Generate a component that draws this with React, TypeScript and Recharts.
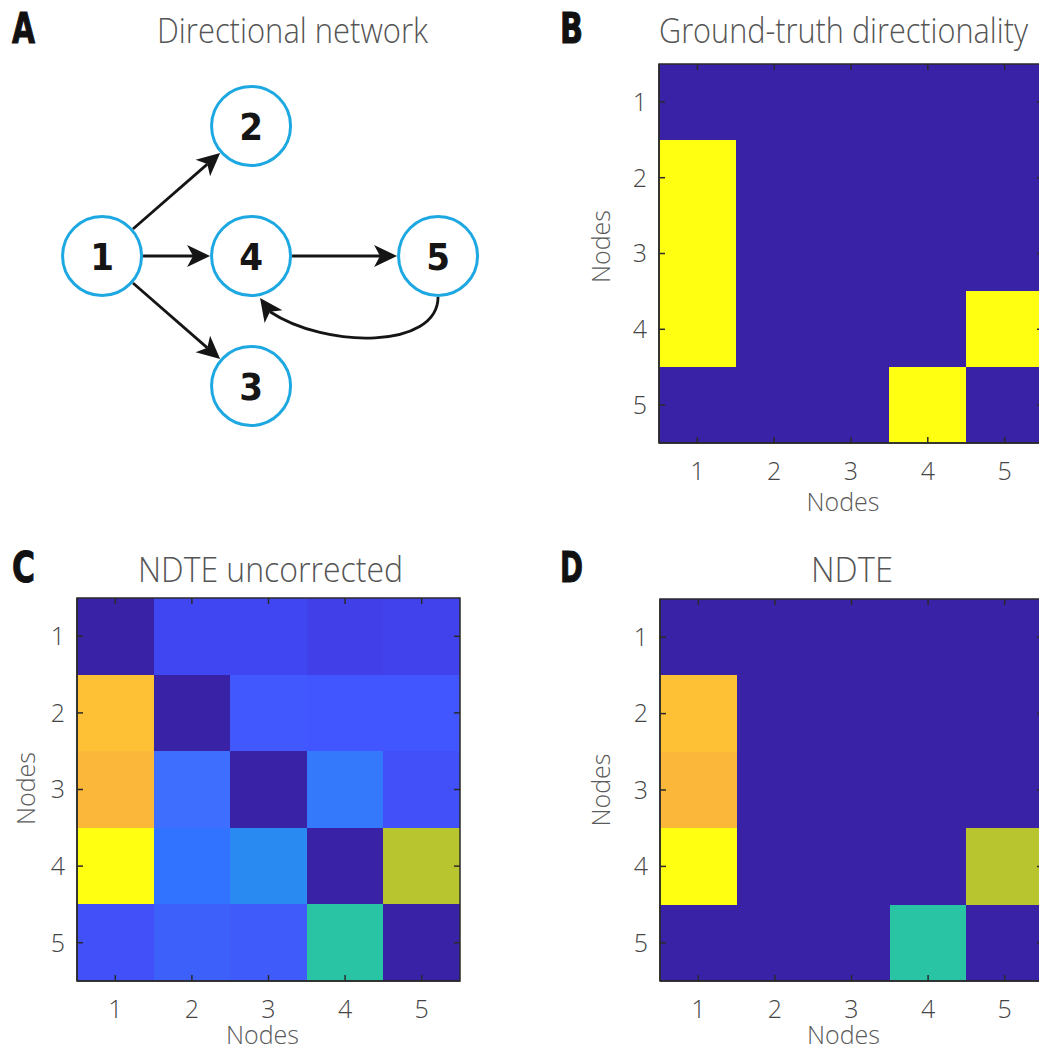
import React from 'react';
import { ScatterChart, Scatter, XAxis, YAxis, ReferenceArea, ReferenceLine, Label } from 'recharts';

// ---------------- data ----------------
const AXIS_TICKS = [1, 2, 3, 4, 5];
const AXIS_LABEL = 'Nodes';

// rows = target node (y, top to bottom), columns = source node (x)
const groundTruthRows: number[][] = [
  [0, 0, 0, 0, 0],
  [1, 0, 0, 0, 0],
  [1, 0, 0, 0, 0],
  [1, 0, 0, 0, 1],
  [0, 0, 0, 1, 0],
];

const ndteUncorrectedRows: number[][] = [
  [0.0, 0.14, 0.14, 0.11, 0.12],
  [0.89, 0.0, 0.2, 0.19, 0.19],
  [0.87, 0.27, 0.0, 0.32, 0.16],
  [1.0, 0.3, 0.4, 0.0, 0.78],
  [0.16, 0.24, 0.22, 0.6, 0.0],
];

const ndteRows: number[][] = [
  [0, 0, 0, 0, 0],
  [0.89, 0, 0, 0, 0],
  [0.87, 0, 0, 0, 0],
  [1.0, 0, 0, 0, 0.78],
  [0, 0, 0, 0.6, 0],
];

// network layout (abstract layout units)
const netNodeIds = [1, 2, 3, 4, 5];
const netNodeX = [0, 1, 1, 1, 2.255];
const netNodeY = [0, 1, -1, 0, 0];
const netEdgeFrom = [1, 1, 1, 4, 5];
const netEdgeTo = [2, 3, 4, 5, 4];
const netEdgeCurved = [false, false, false, false, true];

const panelLetters = ['A', 'B', 'C', 'D'];
const panelTitles = ['Directional network', 'Ground-truth directionality', 'NDTE uncorrected', 'NDTE'];

// parula-like colour scale stops
const scaleStops: [number, string][] = [
  [0.0, '#3A22A6'],
  [0.11, '#4140E8'],
  [0.14, '#4047F2'],
  [0.16, '#4150F8'],
  [0.19, '#4256FF'],
  [0.22, '#3F5CFB'],
  [0.24, '#3D60FB'],
  [0.27, '#3D6EFD'],
  [0.3, '#3173FF'],
  [0.32, '#3478FB'],
  [0.4, '#298BF2'],
  [0.6, '#28C4A4'],
  [0.78, '#B9C52F'],
  [0.87, '#FBB73A'],
  [0.89, '#FEC034'],
  [1.0, '#FFFF12'],
];

// ---------------- helpers ----------------
function hexToRgb(h: string) {
  const n = parseInt(h.slice(1), 16);
  return [(n >> 16) & 255, (n >> 8) & 255, n & 255];
}
function colorFor(v: number) {
  const t = Math.max(0, Math.min(1, v));
  for (let i = 0; i < scaleStops.length - 1; i++) {
    const [t0, c0] = scaleStops[i];
    const [t1, c1] = scaleStops[i + 1];
    if (t >= t0 && t <= t1) {
      const f = t1 === t0 ? 0 : (t - t0) / (t1 - t0);
      const a = hexToRgb(c0);
      const b = hexToRgb(c1);
      const r = a.map((x, k) => Math.round(x + (b[k] - x) * f));
      return `rgb(${r[0]},${r[1]},${r[2]})`;
    }
  }
  return scaleStops[scaleStops.length - 1][1];
}

const LIGHT_FONT = "'Open Sans', Inter, Lato, 'Liberation Sans', sans-serif";
const BOLD_COND = "'DejaVu Sans Condensed', 'Liberation Sans Narrow', 'DejaVu Sans', sans-serif";
const AXIS_COLOR = '#2a2a2a';
const TEXT_COLOR = '#454545';
const LINE_W = 1.5;
const TICK_LEN = 6;
const LINE_PROPS = { stroke: AXIS_COLOR, strokeWidth: LINE_W };

// inward tick marks drawn from a ReferenceLine spanning the plot
function XTickMarks(p: any) {
  const top = Math.min(p.y1, p.y2);
  const bot = Math.max(p.y1, p.y2);
  return (
    <g>
      <line x1={p.x1} y1={top} x2={p.x1} y2={top + TICK_LEN} stroke={AXIS_COLOR} strokeWidth={LINE_W} />
      <line x1={p.x1} y1={bot - TICK_LEN} x2={p.x1} y2={bot} stroke={AXIS_COLOR} strokeWidth={LINE_W} />
    </g>
  );
}
function YTickMarks(p: any) {
  const left = Math.min(p.x1, p.x2);
  const right = Math.max(p.x1, p.x2);
  return (
    <g>
      <line x1={left} y1={p.y1} x2={left + TICK_LEN} y2={p.y1} stroke={AXIS_COLOR} strokeWidth={LINE_W} />
      <line x1={right - TICK_LEN} y1={p.y1} x2={right} y2={p.y1} stroke={AXIS_COLOR} strokeWidth={LINE_W} />
    </g>
  );
}

// ---------------- heatmap ----------------
type HeatProps = {
  rows: number[][];
  plotLeft: number;
  plotTop: number;
  plotW: number;
  plotH: number;
  yLabelGap: number;
  yLabelShift: number;
  xLabelBaseline: number;
  xLabelShift: number;
};

const PAD_L = 80;
const PAD_T = 10;
const PAD_R = 10;
const PAD_B = 80;

function Heatmap({ rows, plotLeft, plotTop, plotW, plotH, yLabelGap, yLabelShift, xLabelBaseline, xLabelShift }: HeatProps) {
  const cells: { x: number; y: number; v: number }[] = [];
  rows.forEach((row, ri) =>
    row.forEach((v, ci) => cells.push({ x: AXIS_TICKS[ci], y: AXIS_TICKS[ri], v }))
  );
  const tickStyle = { fontSize: 25, fill: TEXT_COLOR, fontFamily: LIGHT_FONT, fontWeight: 300 };
  const W = PAD_L + plotW + PAD_R;
  const H = PAD_T + plotH + PAD_B;
  return (
    <>
      {/* cell layer */}
      <div style={{ position: 'absolute', left: plotLeft - PAD_L, top: plotTop - PAD_T }}>
        <ScatterChart width={W} height={H} margin={{ top: PAD_T, right: PAD_R, left: PAD_L, bottom: PAD_B }}>
          <XAxis xAxisId="b" type="number" dataKey="x" hide domain={[0.5, 5.5]} allowDataOverflow />
          <YAxis yAxisId="l" type="number" dataKey="y" hide reversed domain={[0.5, 5.5]} allowDataOverflow />
          {cells.map((c, i) => {
            const col = colorFor(c.v);
            return (
              <ReferenceArea
                key={`cell-${i}`}
                xAxisId="b"
                yAxisId="l"
                x1={c.x - 0.5}
                x2={c.x + 0.5}
                y1={c.y - 0.5}
                y2={c.y + 0.5}
                fill={col}
                fillOpacity={1}
                ifOverflow="visible"
                shape={(p: any) => (
                  <rect
                    x={p.x}
                    y={p.y}
                    width={p.width}
                    height={p.height}
                    fill={col}
                    shapeRendering="crispEdges"
                  />
                )}
              />
            );
          })}
          <Scatter data={cells} xAxisId="b" yAxisId="l" isAnimationActive={false} shape={() => <g />} />
        </ScatterChart>
      </div>
      {/* axes layer */}
      <div style={{ position: 'absolute', left: plotLeft - PAD_L, top: plotTop - PAD_T }}>
        <ScatterChart width={W} height={H} margin={{ top: PAD_T, right: PAD_R, left: 0, bottom: 0 }}>
          <Scatter data={cells} xAxisId="b" yAxisId="l" isAnimationActive={false} shape={() => <g />} />
          <XAxis
            xAxisId="b"
            type="number"
            dataKey="x"
            domain={[0.5, 5.5]}
            allowDataOverflow
            ticks={AXIS_TICKS}
            interval={0}
            orientation="bottom"
            height={PAD_B}
            tickLine={false}
            tickMargin={13}
            stroke={AXIS_COLOR}
            axisLine={LINE_PROPS}
            tick={tickStyle}
          >
            <Label
              content={(p: any) => {
                const vb = p.viewBox || {};
                return (
                  <text
                    x={vb.x + vb.width / 2 + xLabelShift}
                    y={vb.y + xLabelBaseline}
                    textAnchor="middle"
                    fontSize={25}
                    fontFamily={LIGHT_FONT}
                    fontWeight={300}
                    fill="#5a5a5a"
                  >
                    {AXIS_LABEL}
                  </text>
                );
              }}
            />
          </XAxis>
          <YAxis
            yAxisId="l"
            type="number"
            dataKey="y"
            reversed
            domain={[0.5, 5.5]}
            allowDataOverflow
            ticks={AXIS_TICKS}
            interval={0}
            orientation="left"
            width={PAD_L}
            tickLine={false}
            tickMargin={6}
            stroke={AXIS_COLOR}
            axisLine={LINE_PROPS}
            tick={tickStyle}
          >
            <Label
              content={(p: any) => {
                const vb = p.viewBox || {};
                const x = vb.x + vb.width - yLabelGap;
                const y = vb.y + vb.height / 2 + yLabelShift;
                return (
                  <text
                    x={x}
                    y={y}
                    transform={`rotate(-90, ${x}, ${y})`}
                    textAnchor="middle"
                    dominantBaseline="central"
                    fontSize={25}
                    fontFamily={LIGHT_FONT}
                    fontWeight={300}
                    fill="#5a5a5a"
                  >
                    {AXIS_LABEL}
                  </text>
                );
              }}
            />
          </YAxis>
          {/* axes box */}
          <ReferenceArea
            xAxisId="b"
            yAxisId="l"
            x1={0.5}
            x2={5.5}
            y1={0.5}
            y2={5.5}
            ifOverflow="visible"
            shape={(p: any) => (
              <rect
                x={p.x}
                y={p.y}
                width={p.width}
                height={p.height}
                fill="none"
                stroke={AXIS_COLOR}
                strokeWidth={LINE_W}
              />
            )}
          />
          {AXIS_TICKS.map((t) => (
            <ReferenceLine key={`xt-${t}`} xAxisId="b" yAxisId="l" x={t} ifOverflow="visible" shape={XTickMarks} />
          ))}
          {AXIS_TICKS.map((t) => (
            <ReferenceLine key={`yt-${t}`} xAxisId="b" yAxisId="l" y={t} ifOverflow="visible" shape={YTickMarks} />
          ))}
        </ScatterChart>
      </div>
    </>
  );
}

// ---------------- network ----------------
const R_OUT = 41;
const EDGE_COLOR = '#151515';
const HEAD_LEN = 23;
const HEAD_HALF = 11;
const HEAD_NOTCH = 6;

function arrowHead(tx: number, ty: number, ux: number, uy: number) {
  const nx = -uy;
  const ny = ux;
  const c1x = tx - ux * HEAD_LEN + nx * HEAD_HALF;
  const c1y = ty - uy * HEAD_LEN + ny * HEAD_HALF;
  const c2x = tx - ux * HEAD_LEN - nx * HEAD_HALF;
  const c2y = ty - uy * HEAD_LEN - ny * HEAD_HALF;
  const bx = tx - ux * (HEAD_LEN - HEAD_NOTCH);
  const by = ty - uy * (HEAD_LEN - HEAD_NOTCH);
  return `M${tx},${ty} L${c1x},${c1y} L${bx},${by} L${c2x},${c2y} Z`;
}

function StraightArrow(p: any) {
  const { x1, y1, x2, y2 } = p;
  const dx = x2 - x1;
  const dy = y2 - y1;
  const L = Math.hypot(dx, dy) || 1;
  const ux = dx / L;
  const uy = dy / L;
  const sx = x1 + ux * R_OUT;
  const sy = y1 + uy * R_OUT;
  const tx = x2 - ux * R_OUT;
  const ty = y2 - uy * R_OUT;
  const ex = tx - ux * (HEAD_LEN - HEAD_NOTCH);
  const ey = ty - uy * (HEAD_LEN - HEAD_NOTCH);
  return (
    <g>
      <line x1={sx} y1={sy} x2={ex} y2={ey} stroke={EDGE_COLOR} strokeWidth={2.8} />
      <path d={arrowHead(tx, ty, ux, uy)} fill={EDGE_COLOR} />
    </g>
  );
}

function CurvedArrow(p: any) {
  const { x1, y1, x2, y2 } = p;
  const sx = x1;
  const sy = y1 + R_OUT;
  const tx = x2 + 9;
  const ty = y2 + R_OUT + 1;
  const dxh = -13;
  const dyh = -18;
  const Lh = Math.hypot(dxh, dyh);
  const ux = dxh / Lh;
  const uy = dyh / Lh;
  const ex = tx - ux * (HEAD_LEN - HEAD_NOTCH);
  const ey = ty - uy * (HEAD_LEN - HEAD_NOTCH);
  const d = `M${sx},${sy} C${sx},${sy + 52} ${x2 + 75},${y2 + R_OUT + 52} ${ex},${ey}`;
  return (
    <g>
      <path d={d} fill="none" stroke={EDGE_COLOR} strokeWidth={2.8} />
      <path d={arrowHead(tx, ty, ux, uy)} fill={EDGE_COLOR} />
    </g>
  );
}

function NodeShape(p: any) {
  const { cx, cy, payload } = p;
  return (
    <g>
      <circle cx={cx} cy={cy} r={39.5} fill="#fff" stroke="#1DA8E2" strokeWidth={3} />
      <text
        x={cx}
        y={cy}
        dy="0.36em"
        textAnchor="middle"
        fontSize={38}
        fontWeight={700}
        fontFamily={BOLD_COND}
        fill="#151515"
      >
        {payload.id}
      </text>
    </g>
  );
}

function NetworkPanel() {
  const nodes = netNodeIds.map((id, i) => ({ id, x: netNodeX[i], y: netNodeY[i] }));
  const byId = (id: number) => nodes[netNodeIds.indexOf(id)];
  return (
    <div style={{ position: 'absolute', left: 0, top: 0 }}>
      <ScatterChart width={520} height={480} margin={{ top: 0, right: 0, left: 0, bottom: 0 }}>
        <XAxis type="number" dataKey="x" hide domain={[-0.685, 2.805]} allowDataOverflow />
        <YAxis type="number" dataKey="y" hide domain={[-1.723, 1.969]} allowDataOverflow />
        {netEdgeFrom.map((f, i) => {
          const a = byId(f);
          const b = byId(netEdgeTo[i]);
          return (
            <ReferenceLine
              key={`edge-${i}`}
              segment={[
                { x: a.x, y: a.y },
                { x: b.x, y: b.y },
              ]}
              ifOverflow="visible"
              shape={netEdgeCurved[i] ? CurvedArrow : StraightArrow}
            />
          );
        })}
        <Scatter data={nodes} isAnimationActive={false} shape={NodeShape} />
      </ScatterChart>
    </div>
  );
}

// ---------------- text overlay ----------------
const letterPos = [
  { x: 12, y: 43 },
  { x: 560, y: 43 },
  { x: 12, y: 582 },
  { x: 560, y: 582 },
];
const titlePos = [
  { x: 157, y: 43, w: 271 },
  { x: 659, y: 43, w: 369 },
  { x: 138, y: 582, w: 265 },
  { x: 811, y: 582, w: 82 },
];

function TextOverlay() {
  return (
    <svg width={1039} height={1048} style={{ position: 'absolute', left: 0, top: 0, pointerEvents: 'none' }}>
      {panelLetters.map((t, i) => (
        <text
          key={`l-${i}`}
          x={letterPos[i].x}
          y={letterPos[i].y}
          fontFamily={BOLD_COND}
          fontWeight={700}
          fontSize={42}
          fill="#111"
          stroke="#111"
          strokeWidth={1}
          textLength={23}
          lengthAdjust="spacingAndGlyphs"
        >
          {t}
        </text>
      ))}
      {panelTitles.map((t, i) => (
        <text
          key={`t-${i}`}
          x={titlePos[i].x}
          y={titlePos[i].y}
          fontFamily={LIGHT_FONT}
          fontWeight={300}
          fontSize={34}
          fill="#555"
          textLength={titlePos[i].w}
          lengthAdjust="spacingAndGlyphs"
        >
          {t}
        </text>
      ))}
    </svg>
  );
}

export default function App() {
  return (
    <div
      style={{
        position: 'absolute',
        left: 0,
        top: 0,
        width: 1039,
        height: 1048,
        overflow: 'hidden',
        background: '#fff',
      }}
    >
      <NetworkPanel />
      <Heatmap
        rows={groundTruthRows}
        plotLeft={659}
        plotTop={64}
        plotW={384}
        plotH={379}
        yLabelGap={59}
        yLabelShift={-7}
        xLabelBaseline={68}
        xLabelShift={-8}
      />
      <Heatmap
        rows={ndteUncorrectedRows}
        plotLeft={77}
        plotTop={598}
        plotW={383}
        plotH={383}
        yLabelGap={52}
        yLabelShift={-1}
        xLabelBaseline={63}
        xLabelShift={-6}
      />
      <Heatmap
        rows={ndteRows}
        plotLeft={660}
        plotTop={599}
        plotW={383}
        plotH={382}
        yLabelGap={60}
        yLabelShift={0}
        xLabelBaseline={63}
        xLabelShift={-8}
      />
      <TextOverlay />
    </div>
  );
}
